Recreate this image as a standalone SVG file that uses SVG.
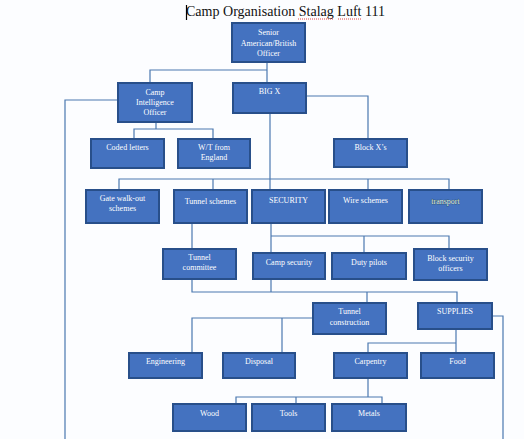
<svg xmlns="http://www.w3.org/2000/svg" width="524" height="439" viewBox="0 0 524 439">
<style>
.bg{fill:#fcfdff}
.box{fill:#4472c0;stroke:#284f8a;stroke-width:2}
.t{font-family:"Liberation Serif","Times New Roman",serif;font-size:8px;fill:#ffffff;text-anchor:middle}
.tt{font-family:"Liberation Serif","Times New Roman",serif;font-size:15px;fill:#111111}
.c{fill:none;stroke:#4a78b0;stroke-width:1.2}
.sq{fill:none;stroke:#e03030;stroke-width:0.9;stroke-dasharray:1 1}
</style>
<rect class="bg" x="0" y="0" width="524" height="439"/>
<g id="title">
<text class="tt" x="186" y="16" textLength="199" lengthAdjust="spacingAndGlyphs">Camp Organisation Stalag Luft 111</text>
<line x1="186.5" y1="5" x2="186.5" y2="20" stroke="#000" stroke-width="1.2"/>
<line class="sq" x1="298" y1="19" x2="333" y2="19"/>
<line class="sq" x1="338" y1="19" x2="361" y2="19"/>
</g>
<g id="connectors">
<path class="c" d="M267 62 V83"/>
<path class="c" d="M150 83 V70 H267"/>
<path class="c" d="M306 96 H368 V139"/>
<path class="c" d="M118 100 H65 V439"/>
<path class="c" d="M156 122 V129"/>
<path class="c" d="M134 139 V129 H213 V139"/>
<path class="c" d="M270 113 V190"/>
<path class="c" d="M119 190 V179 H449 V190"/>
<path class="c" d="M213 179 V190"/>
<path class="c" d="M368 179 V190"/>
<path class="c" d="M192 223 V249"/>
<path class="c" d="M192 279 V292 H457 V303"/>
<path class="c" d="M367 292 V303"/>
<path class="c" d="M271 223 V253"/>
<path class="c" d="M271 236 H449 V249"/>
<path class="c" d="M364 236 V253"/>
<path class="c" d="M271 279 V292"/>
<path class="c" d="M313 318 H192 V353"/>
<path class="c" d="M282 318 V353"/>
<path class="c" d="M456 329 V353"/>
<path class="c" d="M368 353 V343 H456"/>
<path class="c" d="M492 316 H503 V439"/>
<path class="c" d="M368 378 V397"/>
<path class="c" d="M236 404 V397 H382 V404"/>
<path class="c" d="M296 397 V404"/>
</g>
<g id="senior"><rect class="box" x="232" y="23" width="73" height="39"/>
<text class="t" x="268.5" y="35">Senior</text><text class="t" x="268.5" y="45.5">American/British</text><text class="t" x="268.5" y="55.5">Officer</text></g>
<g id="cio"><rect class="box" x="118" y="83" width="74" height="39"/>
<text class="t" x="155" y="95">Camp</text><text class="t" x="155" y="105">Intelligence</text><text class="t" x="155" y="115">Officer</text></g>
<g id="bigx"><rect class="box" x="233" y="83" width="73" height="30"/>
<text class="t" x="269.5" y="94">BIG X</text></g>
<g id="coded"><rect class="box" x="91" y="139" width="73" height="29"/>
<text class="t" x="127.5" y="150">Coded letters</text></g>
<g id="wt"><rect class="box" x="178" y="139" width="72" height="29"/>
<text class="t" x="214" y="150">W/T from</text><text class="t" x="214" y="160">England</text></g>
<g id="blockx"><rect class="box" x="334" y="139" width="73" height="28"/>
<text class="t" x="370.5" y="150">Block X’s</text></g>
<g id="gate"><rect class="box" x="86" y="190" width="73" height="33"/>
<text class="t" x="122.5" y="201">Gate walk-out</text><text class="t" x="122.5" y="211">schemes</text></g>
<g id="tunnelschemes"><rect class="box" x="174" y="190" width="73" height="33"/>
<text class="t" x="210.5" y="204">Tunnel schemes</text></g>
<g id="security"><rect class="box" x="252" y="190" width="73" height="33"/>
<text class="t" x="288.5" y="203">SECURITY</text></g>
<g id="wire"><rect class="box" x="329" y="190" width="73" height="33"/>
<text class="t" x="365.5" y="203">Wire schemes</text></g>
<g id="transport"><rect class="box" x="409" y="190" width="73" height="33"/>
<text class="t" x="445.5" y="204" style="fill:#e6f2f2;stroke:#1f4848;stroke-width:0.5;paint-order:stroke">transport</text></g>
<g id="tunnelcommittee"><rect class="box" x="163" y="249" width="73" height="30"/>
<text class="t" x="199.5" y="260">Tunnel</text><text class="t" x="199.5" y="270">committee</text></g>
<g id="campsecurity"><rect class="box" x="253" y="253" width="72" height="26"/>
<text class="t" x="289" y="265">Camp security</text></g>
<g id="duty"><rect class="box" x="332" y="253" width="74" height="26"/>
<text class="t" x="369" y="265">Duty pilots</text></g>
<g id="blocksec"><rect class="box" x="414" y="249" width="73" height="31"/>
<text class="t" x="450.5" y="261">Block security</text><text class="t" x="450.5" y="271">officers</text></g>
<g id="tunnelconstruction"><rect class="box" x="313" y="303" width="73" height="31"/>
<text class="t" x="349.5" y="314">Tunnel</text><text class="t" x="349.5" y="324.5">construction</text></g>
<g id="supplies"><rect class="box" x="418" y="303" width="74" height="26"/>
<text class="t" x="455" y="314">SUPPLIES</text></g>
<g id="engineering"><rect class="box" x="129" y="353" width="73" height="25"/>
<text class="t" x="165.5" y="364">Engineering</text></g>
<g id="disposal"><rect class="box" x="223" y="353" width="72" height="25"/>
<text class="t" x="259" y="364">Disposal</text></g>
<g id="carpentry"><rect class="box" x="334" y="353" width="73" height="25"/>
<text class="t" x="370.5" y="364">Carpentry</text></g>
<g id="food"><rect class="box" x="421" y="353" width="73" height="25"/>
<text class="t" x="457.5" y="364">Food</text></g>
<g id="wood"><rect class="box" x="173" y="404" width="73" height="27"/>
<text class="t" x="209.5" y="416">Wood</text></g>
<g id="tools"><rect class="box" x="252" y="404" width="73" height="27"/>
<text class="t" x="288.5" y="416">Tools</text></g>
<g id="metals"><rect class="box" x="332" y="404" width="74" height="27"/>
<text class="t" x="369" y="416">Metals</text></g>
</svg>
